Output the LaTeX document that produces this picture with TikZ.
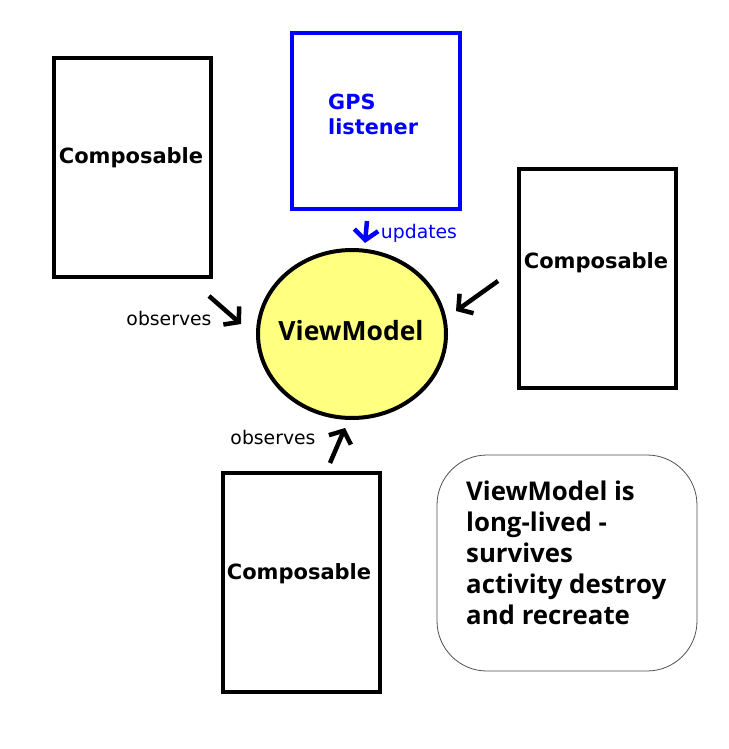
\documentclass[tikz,border=0pt]{standalone}
\usepackage{fontspec}
\setmainfont{DejaVu Sans}
\newfontfamily\vmfont{Open Sans}
\usetikzlibrary{arrows.meta,shapes.geometric}
\begin{document}
\begin{tikzpicture}[x=1pt,y=-1pt,
  comp/.style={draw=black,line width=4pt,minimum width=157pt,minimum height=219pt,inner sep=0pt},
  comptext/.style={inner sep=0pt,font=\fontsize{21}{25}\selectfont\bfseries},
  lbl/.style={font=\fontsize{18.8}{22}\selectfont,inner sep=0pt},
  arr/.style={line width=4.5pt,-{Straight Barb[length=10pt,width=24pt]}}]
\useasboundingbox (0,0) rectangle (728,749);
\node[comp] (c1) at (132.5,167.5) {};
\node[comp] (c2) at (597.5,278.5) {};
\node[comp] (c3) at (301.5,582.5) {};
\node[comptext] (t1) at (131,158) {Composable};
\node[comptext] (t2) at (596,263) {Composable};
\node[comptext] (t3) at (299,574) {Composable};
\node[draw=blue,line width=4pt,minimum width=168pt,minimum height=176pt,inner sep=0pt] (gps) at (376,121) {};
\node[text=blue,align=left,anchor=north west,inner sep=0pt,font=\fontsize{20.8}{25}\selectfont\bfseries] (gpst) at (328,94) {GPS\\listener};
\node[ellipse,draw=black,line width=4pt,fill={rgb,255:red,255;green,255;blue,128},minimum width=188pt,minimum height=168pt,inner sep=0pt] (vm) at (352,334) {};
\node[inner sep=0pt,font=\vmfont\fontsize{26.5}{30}\selectfont\bfseries] (vmt) at (351,331) {ViewModel};
\node[draw={rgb,255:red,80;green,80;blue,80},line width=0.8pt,rounded corners=50pt,minimum width=260pt,minimum height=216pt,inner sep=0pt] (note) at (567,563) {};
\node[anchor=north west,align=left,inner sep=0pt,font=\vmfont\fontsize{25.8}{31}\selectfont\bfseries] (notet) at (466,481) {ViewModel is\\long-lived -\\survives\\activity destroy\\and recreate};
\coordinate (a1s) at (209,296); \coordinate (a1e) at (241,324);
\coordinate (a2s) at (367,221); \coordinate (a2e) at (365,243);
\coordinate (a3s) at (498,281); \coordinate (a3e) at (456,311);
\coordinate (a4s) at (330,463); \coordinate (a4e) at (345,428);
\draw[arr] (a1s) -- (a1e);
\draw[arr,blue] (a2s) -- (a2e);
\draw[arr] (a3s) -- (a3e);
\draw[arr] (a4s) -- (a4e);
\node[lbl] (l1) at (169,318) {observes};
\node[lbl,text=blue] (l2) at (419,233) {updates};
\node[lbl] (l3) at (273,437) {observes};
\end{tikzpicture}
\end{document}
